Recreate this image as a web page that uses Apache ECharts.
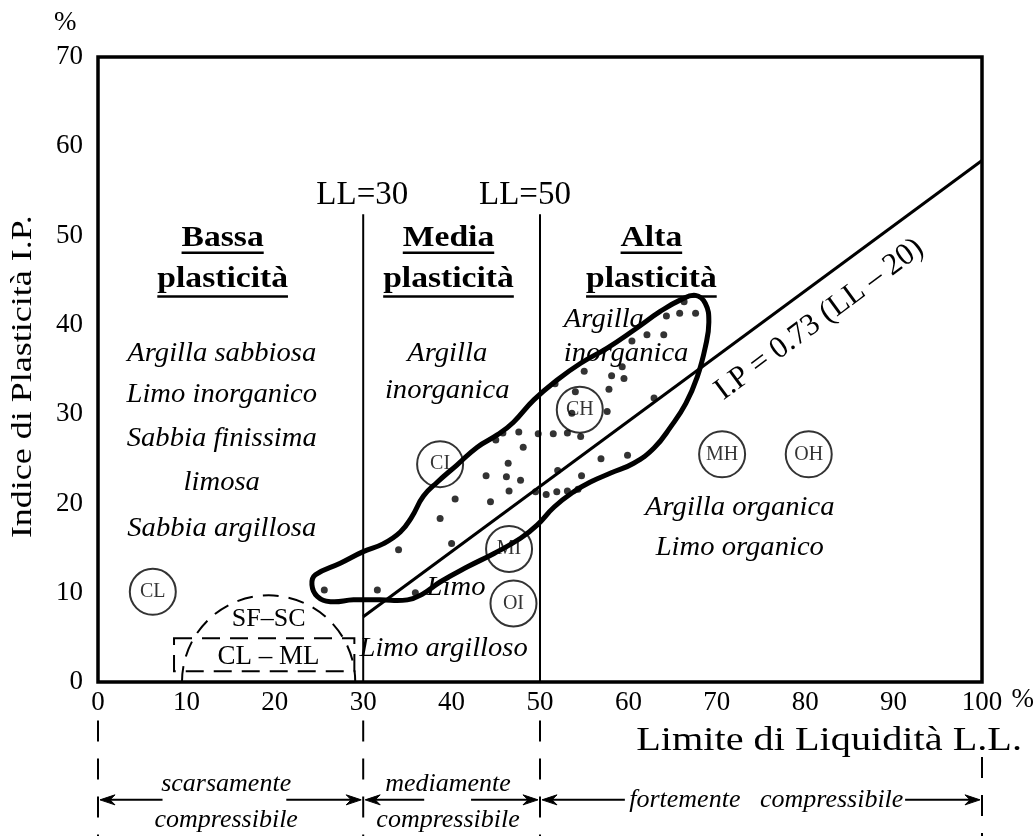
<!DOCTYPE html>
<html>
<head>
<meta charset="utf-8">
<script src="https://cdn.jsdelivr.net/npm/echarts@6/dist/echarts.min.js"></script>
<style>
  html, body { margin: 0; padding: 0; background: #fff; }
  #chart { width: 1034px; height: 836px; }
</style>
</head>
<body>
<div id="chart"></div>
<script>
const FONT = '"Liberation Serif", "Times New Roman", Times, serif';

// Liquid limit (LL) and plasticity index (IP) of the tested samples
const sampleLL = [25.6, 31.6, 35.9, 34.0, 40.0, 38.7, 40.4, 44.4, 43.9, 46.2, 47.8, 46.5, 46.4, 48.1, 45.0, 45.8,
                  47.6, 49.8, 51.5, 53.1, 54.6, 49.5, 50.7, 51.9, 53.1, 54.3, 52.0, 54.7, 56.9, 59.9, 53.6, 54.0,
                  57.6, 57.8, 51.7, 55.0, 58.1, 59.5, 59.3, 60.4, 62.1, 64.0, 64.3, 65.8, 67.6, 66.3, 62.9];
const sampleIP = [10.3, 10.3, 10.0, 14.8, 15.5, 18.3, 20.5, 20.2, 23.1, 23.0, 22.6, 21.4, 24.5, 26.3, 27.1, 27.9,
                  28.0, 27.8, 27.8, 27.9, 27.5, 21.3, 21.0, 21.3, 21.4, 21.6, 23.7, 23.1, 25.0, 25.4, 30.1, 32.5,
                  30.3, 32.8, 33.4, 34.8, 34.3, 34.0, 35.3, 38.2, 38.9, 38.9, 41.0, 41.3, 41.3, 42.6, 31.8];

// Closed envelope around the samples
const envelopeLL = [24.2, 24.6, 27.4, 30.0, 32.3, 34.2, 35.5, 36.8, 38.4, 40.6, 42.9, 45.2, 47.0, 49.3, 51.9, 54.6,
                    57.6, 60.6, 63.6, 65.9, 67.6, 68.7, 69.1, 68.7, 67.8, 66.5, 64.8, 62.9, 60.6, 58.0, 55.7, 53.8,
                    51.6, 49.7, 47.8, 44.8, 41.8, 38.7, 36.8, 35.0, 31.9, 28.9, 26.3, 24.8];
const envelopeIP = [10.9, 12.0, 13.3, 14.6, 15.5, 16.8, 18.5, 20.8, 22.4, 24.3, 26.3, 27.7, 29.1, 31.6, 33.8, 35.7,
                    37.4, 39.4, 41.5, 42.8, 43.3, 42.4, 40.3, 37.5, 34.2, 31.2, 28.6, 26.2, 24.5, 23.4, 22.4, 21.3,
                    19.6, 17.6, 16.1, 14.4, 12.9, 11.2, 9.9, 9.2, 9.2, 9.2, 9.0, 9.6];

// Casagrande A-line: I.P = 0.73 (LL - 20), drawn from LL = 30 to LL = 100
const aLineSlope = 0.73;
const aLineShift = 20;
const aLineLL = [30, 100];
const aLineText = 'I.P = 0.73 (LL \u2013 20)';
const aLineTextAt = [81.6, 40.6];

// Plasticity boundaries
const boundaryLL = [30, 50];
const boundaryTop = 52.4;
const boundaryText = ['LL=30', 'LL=50'];
const boundaryTextLL = [29.9, 48.3];
const boundaryTextIP = 54.5;

// Soil group symbols
const groupNames = ['CL', 'CI', 'CH', 'MI', 'OI', 'MH', 'OH'];
const groupLL = [6.2, 38.7, 54.5, 46.5, 47.0, 70.6, 80.4];
const groupIP = [10.1, 24.4, 30.5, 14.9, 8.8, 25.5, 25.5];

// Zone headings (two lines each)
const headingTop = ['Bassa', 'Media', 'Alta'];
const headingBottom = ['plasticit\u00e0', 'plasticit\u00e0', 'plasticit\u00e0'];
const headingLL = [14.1, 39.65, 62.6];
const headingIP = [49.75, 45.15];

// Soil descriptions, centred
const descText = ['Argilla sabbiosa', 'Limo inorganico', 'Sabbia finissima', 'limosa', 'Sabbia argillosa',
                  'Argilla', 'inorganica', 'Argilla organica', 'Limo organico', 'Limo', 'Limo argilloso'];
const descLL = [14.0, 14.0, 14.0, 14.0, 14.0, 39.5, 39.5, 72.6, 72.6, 40.5, 39.1];
const descIP = [36.7, 32.1, 27.2, 22.3, 17.2, 36.7, 32.6, 19.5, 15.0, 10.5, 3.7];

// Soil descriptions, left aligned (high plasticity zone)
const descLeftText = ['Argilla', 'inorganica'];
const descLeftLL = [52.7, 52.7];
const descLeftIP = [40.6, 36.75];

// Fine sand / silty-clay zones near the origin
const sandArc = { ll: 19.3, ip: 0, r: 9.8 };
const mixedBoxLL = [8.6, 29.0];
const mixedBoxIP = [1.2, 4.9];
const zoneText = ['SF\u2013SC', 'CL \u2013 ML'];
const zoneTextLL = [19.3, 19.3];
const zoneTextIP = [7.05, 2.8];

// Compressibility ranges below the LL axis
const compressBounds = [0, 30, 50, 100];
const compressGaps = [[7.3, 21.3], [36.9, 42.2], [59.6, 91.3]];
const compressUpper = ['scarsamente', 'mediamente', ''];
const compressLower = ['compressibile', 'compressibile', ''];
const compressInline = ['', '', 'fortemente   compressibile'];
const compressLabelLL = [14.5, 39.6, 75.6];

// Axis titles
const xTitle = 'Limite di Liquidit\u00e0 L.L.';
const yTitle = 'Indice di Plasticit\u00e0 I.P.';

const measureCtx = document.createElement('canvas').getContext('2d');
function textWidth(text, font) {
  measureCtx.font = font;
  return measureCtx.measureText(text).width;
}

function textEl(api, ll, ip, text, font, opts) {
  opts = opts || {};
  const p = api.coord([ll, ip]);
  return {
    type: 'text',
    x: p[0] + (opts.dx || 0),
    y: p[1] + (opts.dy || 0),
    rotation: opts.rotation || 0,
    scaleX: opts.scaleX || 1,
    style: {
      text: text,
      font: font,
      fill: '#000',
      align: opts.align || 'center',
      verticalAlign: 'middle'
    }
  };
}

const fItalic = 'italic 27px ' + FONT;
const fBold = 'bold 30px ' + FONT;
const fPlain = '33px ' + FONT;

function renderTexts(params, api) {
  const kids = [];
  // headings with underlines
  for (let i = 0; i < headingTop.length; i++) {
    const rows = [headingTop[i], headingBottom[i]];
    const under = [15, 17.5];
    rows.forEach((t, r) => {
      kids.push(textEl(api, headingLL[i], headingIP[r], t, fBold, { scaleX: 1.12 }));
      const p = api.coord([headingLL[i], headingIP[r]]);
      const w = textWidth(t, fBold) * 1.12;
      kids.push({
        type: 'line',
        shape: { x1: p[0] - w / 2, y1: p[1] + under[r], x2: p[0] + w / 2, y2: p[1] + under[r] },
        style: { stroke: '#000', lineWidth: 2.5 }
      });
    });
  }
  descText.forEach((t, i) => kids.push(textEl(api, descLL[i], descIP[i], t, fItalic, { scaleX: 1.06 })));
  descLeftText.forEach((t, i) => kids.push(textEl(api, descLeftLL[i], descLeftIP[i], t, fItalic, { scaleX: 1.06, align: 'left' })));
  boundaryText.forEach((t, i) => kids.push(textEl(api, boundaryTextLL[i], boundaryTextIP, t, fPlain)));
  zoneText.forEach((t, i) => kids.push(textEl(api, zoneTextLL[i], zoneTextIP[i], t, (i ? '27px ' : '26px ') + FONT)));

  // A-line label, parallel to the line
  const a0 = api.coord([aLineLL[0], aLineSlope * (aLineLL[0] - aLineShift)]);
  const a1 = api.coord([aLineLL[1], aLineSlope * (aLineLL[1] - aLineShift)]);
  const ang = Math.atan2(a0[1] - a1[1], a1[0] - a0[0]);
  kids.push(textEl(api, aLineTextAt[0], aLineTextAt[1], aLineText, '31px ' + FONT, { rotation: ang }));

  // axis titles and unit marks
  kids.push(textEl(api, 82.7, -6.6, xTitle, '33px ' + FONT, { scaleX: 1.22 }));
  kids.push(textEl(api, -8.5, 34.2, yTitle, '30px ' + FONT, { scaleX: 1.2, rotation: Math.PI / 2 }));
  kids.push(textEl(api, -3.7, 73.85, '%', '27px ' + FONT));
  kids.push(textEl(api, 104.6, -2.0, '%', '27px ' + FONT));
  return { type: 'group', children: kids };
}

function renderEnvelope(params, api) {
  const pts = envelopeLL.map((ll, i) => api.coord([ll, envelopeIP[i]]));
  return {
    type: 'polygon',
    shape: { points: pts, smooth: 0.45 },
    style: { fill: 'none', stroke: '#000', lineWidth: 5, lineJoin: 'round' }
  };
}

function renderZones(params, api) {
  const c = api.coord([sandArc.ll, sandArc.ip]);
  const r = api.size([sandArc.r, 0])[0];
  const b0 = api.coord([mixedBoxLL[0], mixedBoxIP[1]]);
  const b1 = api.coord([mixedBoxLL[1], mixedBoxIP[0]]);
  return {
    type: 'group',
    children: [
      {
        type: 'arc',
        shape: { cx: c[0], cy: c[1], r: r, startAngle: Math.PI, endAngle: Math.PI * 2, clockwise: true },
        style: { fill: 'none', stroke: '#000', lineWidth: 2, lineDash: [16, 10] }
      },
      {
        type: 'rect',
        shape: { x: b0[0], y: b0[1], width: b1[0] - b0[0], height: b1[1] - b0[1] },
        style: { fill: 'none', stroke: '#000', lineWidth: 2, lineDash: [18, 10] }
      }
    ]
  };
}

function arrowHead(x, y, dir) {
  return {
    type: 'polygon',
    shape: { points: [[x, y], [x - dir * 15, y - 5], [x - dir * 10, y], [x - dir * 15, y + 5]] },
    style: { fill: '#000', stroke: '#000', lineWidth: 1 }
  };
}

function renderCompress(params, api) {
  const kids = [];
  const fI = 'italic 26px ' + FONT;
  compressBounds.forEach((b) => {
    const top = api.coord([b, b === 100 ? -8.4 : -4.3]);
    const bot = api.coord([b, -17.4]);
    kids.push({
      type: 'line',
      shape: { x1: top[0], y1: top[1], x2: bot[0], y2: bot[1] },
      style: { stroke: '#000', lineWidth: 2, lineDash: [21, 17] }
    });
  });
  for (let i = 0; i < compressGaps.length; i++) {
    const left = api.coord([compressBounds[i], -13.2]);
    const right = api.coord([compressBounds[i + 1], -13.2]);
    const g0 = api.coord([compressGaps[i][0], -13.2]);
    const g1 = api.coord([compressGaps[i][1], -13.2]);
    const lx = left[0] + 2, rx = right[0] - 2;
    kids.push({ type: 'line', shape: { x1: lx + 10, y1: left[1], x2: g0[0], y2: left[1] }, style: { stroke: '#000', lineWidth: 2 } });
    kids.push({ type: 'line', shape: { x1: g1[0], y1: left[1], x2: rx - 10, y2: left[1] }, style: { stroke: '#000', lineWidth: 2 } });
    kids.push(arrowHead(lx, left[1], -1));
    kids.push(arrowHead(rx, right[1], 1));
    if (compressUpper[i]) kids.push(textEl(api, compressLabelLL[i], -11.4, compressUpper[i], fI));
    if (compressLower[i]) kids.push(textEl(api, compressLabelLL[i], -15.45, compressLower[i], fI));
    if (compressInline[i]) kids.push(textEl(api, compressLabelLL[i], -13.2, compressInline[i], fI));
  }
  return { type: 'group', children: kids };
}

const chart = echarts.init(document.getElementById('chart'), null, { renderer: 'canvas' });

const series = [
  {
    name: 'labels', type: 'custom', z: 1, silent: true, clip: false,
    data: [[0, 0]], renderItem: renderTexts
  },
  ...boundaryLL.map((ll) => ({
    name: 'LL=' + ll, type: 'line', z: 2, silent: true, showSymbol: false, symbol: 'none',
    data: [[ll, 0], [ll, boundaryTop]],
    lineStyle: { color: '#000', width: 2 }
  })),
  {
    name: 'A-line', type: 'line', z: 2, silent: true, showSymbol: false, symbol: 'none',
    data: aLineLL.map((ll) => [ll, aLineSlope * (ll - aLineShift)]),
    lineStyle: { color: '#000', width: 3 }
  },
  {
    name: 'zones', type: 'custom', z: 2, silent: true, clip: false,
    data: [[0, 0]], renderItem: renderZones
  },
  {
    name: 'envelope', type: 'custom', z: 3, silent: true,
    data: [[0, 0]], renderItem: renderEnvelope
  },
  {
    name: 'groups', type: 'scatter', z: 4, silent: true,
    symbol: 'circle', symbolSize: 46,
    data: groupNames.map((n, i) => ({ name: n, value: [groupLL[i], groupIP[i]] })),
    itemStyle: { color: 'rgba(0,0,0,0)', borderColor: '#000', borderWidth: 2 },
    label: {
      show: true, position: 'inside', formatter: '{b}',
      color: '#000', fontFamily: FONT, fontSize: 20
    }
  },
  {
    name: 'samples', type: 'scatter', z: 5, silent: true,
    symbol: 'circle', symbolSize: 7,
    data: sampleLL.map((ll, i) => [ll, sampleIP[i]]),
    itemStyle: { color: '#000' }
  },
  {
    name: 'compressibility', type: 'custom', z: 2, silent: true, clip: false,
    data: [[0, 0]], renderItem: renderCompress
  }
];

chart.setOption({
  animation: false,
  backgroundColor: '#fff',
  grid: {
    left: 98, right: 52, top: 57, bottom: 154,
    show: true, borderColor: '#000', borderWidth: 3.5, backgroundColor: 'rgba(0,0,0,0)',
    outerBoundsMode: 'none'
  },
  xAxis: {
    type: 'value', min: 0, max: 100, interval: 10,
    axisLine: { show: false }, axisTick: { show: false }, splitLine: { show: false },
    axisLabel: { color: '#000', fontFamily: FONT, fontSize: 27, margin: 7 }
  },
  yAxis: {
    type: 'value', min: 0, max: 70, interval: 10,
    axisLine: { show: false }, axisTick: { show: false }, splitLine: { show: false },
    axisLabel: { color: '#000', fontFamily: FONT, fontSize: 27, margin: 15 }
  },
  series: series
});
</script>
</body>
</html>
